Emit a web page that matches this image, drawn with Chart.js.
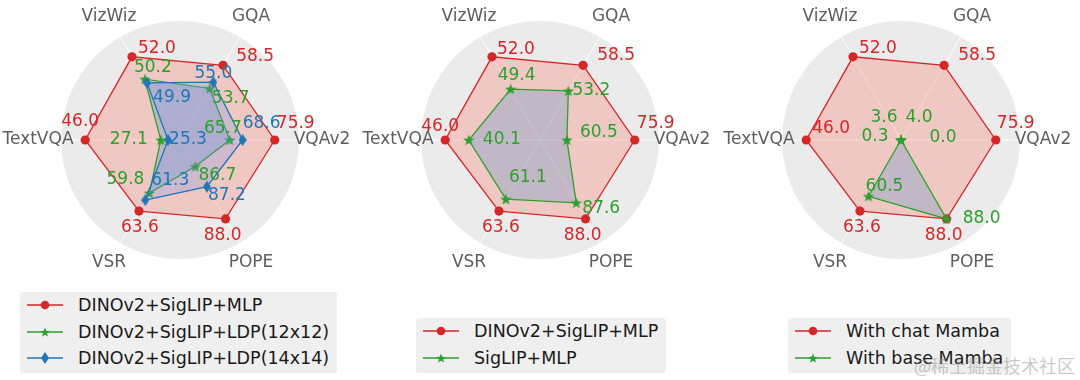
<!DOCTYPE html>
<html lang="en">
<head>
  <meta charset="UTF-8">
  <title>Radar comparison of projector / LLM variants</title>
  <script src="https://cdn.jsdelivr.net/npm/chart.js"></script>
  <style>
    body {
      margin: 0;
      width: 1080px;
      height: 380px;
      position: relative;
      overflow: hidden;
      background: #ffffff;
      font-family: "DejaVu Sans", sans-serif;
    }
    canvas.radar {
      position: absolute;
      top: 0;
    }
    .legend {
      position: absolute;
      background: #efefef;
      border-radius: 3px;
      padding: 0 8px 0 7px;
    }
    .legend .row {
      height: 26.5px;
      display: flex;
      align-items: center;
      font-size: 17.5px;
      color: #1a1a1a;
      white-space: nowrap;
    }
    .legend svg {
      flex: none;
      margin-right: 15px;
    }
    .watermark {
      position: absolute;
      right: 5px;
      bottom: 2px;
      font-family: "Noto Sans CJK SC", sans-serif;
      font-size: 18px;
      color: rgba(150, 150, 150, 0.5);
    }
  </style>
</head>
<body>
  <canvas class="radar" id="radar1" width="360" height="280" style="left:0px"></canvas>
  <canvas class="radar" id="radar2" width="360" height="280" style="left:360px"></canvas>
  <canvas class="radar" id="radar3" width="360" height="280" style="left:721px"></canvas>

  <div class="legend" id="legend1" style="left:20px; top:292px; height:81px;"></div>
  <div class="legend" id="legend2" style="left:416px; top:318px; height:55px;"></div>
  <div class="legend" id="legend3" style="left:788px; top:318px; height:55px;"></div>

  <div class="watermark">@稀土掘金技术社区</div>

  <script>
    // axes in the order Chart.js walks them (clockwise, starting on the right)
    var categories = ['VQAv2', 'POPE', 'VSR', 'TextVQA', 'VizWiz', 'GQA'];

    // each benchmark has its own range, mapped onto the shared radius
    var axisMin = [54.4, 86.04, 48.7, 22.3, 45.3, 43.0];
    var axisMax = [81.4, 88.6, 70.3, 52.05, 53.6, 64.4];

    // panel 1
    var dinoSiglipMlp = [75.9, 88.0, 63.6, 46.0, 52.0, 58.5];
    var dinoSiglipLdp12 = [65.7, 86.7, 59.8, 27.1, 50.2, 53.7];
    var dinoSiglipLdp14 = [68.6, 87.2, 61.3, 25.3, 49.9, 55.0];
    // panel 2
    var siglipMlp = [60.5, 87.6, 61.1, 40.1, 49.4, 53.2];
    // panel 3
    var chatMamba = [75.9, 88.0, 63.6, 46.0, 52.0, 58.5];
    var baseMamba = [0.0, 88.0, 60.5, 0.3, 3.6, 4.0];

    var RED = '#d62728';
    var GREEN = '#2ca02c';
    var BLUE = '#1f77b4';

    function norm(values) {
      return values.map(function (v, i) {
        var t = (v - axisMin[i]) / (axisMax[i] - axisMin[i]);
        return Math.max(0, Math.min(1, t));
      });
    }

    // marker images (matplotlib-like '*' and 'd')
    function starImage(color, size) {
      var c = document.createElement('canvas');
      c.width = size; c.height = size;
      var g = c.getContext('2d');
      var R = size / 2, r = R * 0.42;
      g.beginPath();
      for (var k = 0; k < 10; k++) {
        var a = -Math.PI / 2 + k * Math.PI / 5;
        var rr = (k % 2) ? r : R;
        g.lineTo(R + rr * Math.cos(a), R + 0.5 + rr * Math.sin(a));
      }
      g.closePath();
      g.fillStyle = color;
      g.fill();
      return c;
    }

    function diamondImage(color, w, h) {
      var c = document.createElement('canvas');
      c.width = w; c.height = h;
      var g = c.getContext('2d');
      g.beginPath();
      g.moveTo(w / 2, 0);
      g.lineTo(w, h / 2);
      g.lineTo(w / 2, h);
      g.lineTo(0, h / 2);
      g.closePath();
      g.fillStyle = color;
      g.fill();
      return c;
    }

    var starMark = starImage(GREEN, 12);
    var diamondMark = diamondImage(BLUE, 8, 12);

    function series(label, values, color, fill, marker, order) {
      return {
        label: label,
        data: norm(values),
        rawValues: values,
        borderColor: color,
        backgroundColor: fill,
        borderWidth: 1.3,
        fill: true,
        pointStyle: marker,
        pointRadius: 4.6,
        pointBackgroundColor: color,
        pointBorderColor: color,
        pointBorderWidth: 0,
        order: order
      };
    }

    // light grey disc behind the radar
    var discPlugin = {
      id: 'disc',
      beforeDraw: function (chart) {
        var s = chart.scales.r;
        var ctx = chart.ctx;
        ctx.save();
        ctx.beginPath();
        ctx.arc(s.xCenter, s.yCenter, s.drawingArea, 0, Math.PI * 2);
        ctx.fillStyle = '#ebebeb';
        ctx.fill();
        ctx.restore();
      }
    };

    // benchmark names, centred on a circle outside the disc
    var axisNamesPlugin = {
      id: 'axisNames',
      beforeDatasetsDraw: function (chart) {
        var s = chart.scales.r;
        var ctx = chart.ctx;
        ctx.save();
        ctx.font = '17px "DejaVu Sans"';
        ctx.fillStyle = '#5e5e5e';
        ctx.textAlign = 'center';
        ctx.textBaseline = 'middle';
        categories.forEach(function (name, i) {
          var p = s.getPointPosition(i, 142);
          ctx.fillText(name, p.x, p.y);
        });
        ctx.restore();
      }
    };

    // numeric annotation next to every point
    var valueLabelsPlugin = {
      id: 'valueLabels',
      afterDatasetsDraw: function (chart, args, opts) {
        var ctx = chart.ctx;
        ctx.save();
        ctx.font = '17px "DejaVu Sans"';
        ctx.textAlign = 'center';
        ctx.textBaseline = 'middle';
        chart.data.datasets.forEach(function (ds, d) {
          var meta = chart.getDatasetMeta(d);
          meta.data.forEach(function (pt, i) {
            var off = opts.offsets[d][i];
            ctx.fillStyle = ds.borderColor;
            ctx.fillText(ds.rawValues[i].toFixed(1), pt.x + off[0], pt.y + off[1]);
          });
        });
        ctx.restore();
      }
    };

    function makeRadar(id, datasets, offsets) {
      var ctx = document.getElementById(id).getContext('2d');
      return new Chart(ctx, {
        type: 'radar',
        data: { labels: categories, datasets: datasets },
        options: {
          responsive: false,
          animation: false,
          devicePixelRatio: 1,
          layout: { padding: { left: 61, right: 61, top: 21, bottom: 21 } },
          elements: { line: { tension: 0 } },
          scales: {
            r: {
              min: 0,
              max: 1,
              startAngle: 90,
              ticks: { display: false },
              grid: { display: false },
              angleLines: { display: true, color: '#ffffff', lineWidth: 1 },
              pointLabels: { display: false }
            }
          },
          plugins: {
            legend: { display: false },
            tooltip: { enabled: false },
            valueLabels: { offsets: offsets }
          }
        },
        plugins: [discPlugin, axisNamesPlugin, valueLabelsPlugin]
      });
    }

    var redFill = 'rgba(250, 128, 114, 0.32)';
    var greenFill = 'rgba(90, 150, 200, 0.30)';
    var blueFill = 'rgba(110, 140, 240, 0.25)';

    makeRadar('radar1', [
      series('DINOv2+SigLIP+MLP', dinoSiglipMlp, RED, redFill, 'circle', 3),
      series('DINOv2+SigLIP+LDP(12x12)', dinoSiglipLdp12, GREEN, greenFill, starMark, 2),
      series('DINOv2+SigLIP+LDP(14x14)', dinoSiglipLdp14, BLUE, blueFill, diamondMark, 1)
    ], [
      [[21, -16], [-3, 17], [1, 16], [-5, -18], [25, -8], [32, -9]],
      [[-7, -11], [22, 9], [-24, -13], [-32, 0], [8, -12], [21, 10]],
      [[19, -16], [20, 9], [25, -20], [20, 0], [25, 15], [0, -9]]
    ]);

    makeRadar('radar2', [
      series('DINOv2+SigLIP+MLP', dinoSiglipMlp, RED, redFill, 'circle', 2),
      series('SigLIP+MLP', siglipMlp, GREEN, greenFill, starMark, 1)
    ], [
      [[21, -16], [-3, 17], [2, 16], [-5, -13], [24, -7], [33, -10]],
      [[32, -7], [25, 6], [22, -22], [33, 0], [6, -14], [23, 0]]
    ]);

    makeRadar('radar3', [
      series('With chat Mamba', chatMamba, RED, redFill, 'circle', 2),
      series('With base Mamba', baseMamba, GREEN, greenFill, starMark, 1)
    ], [
      [[20, -16], [-3, 17], [2, 16], [25, -11], [25, -8], [33, -10]],
      [[42, -2], [35, 0], [16, -10], [-26, -3], [-17, -22], [18, -22]]
    ]);

    // legends
    var markerSvg = {
      circle: function (c) { return '<circle cx="18" cy="7" r="4.3" fill="' + c + '"/>'; },
      star: function (c) {
        var pts = [];
        for (var k = 0; k < 10; k++) {
          var a = -Math.PI / 2 + k * Math.PI / 5;
          var rr = (k % 2) ? 2.2 : 5;
          pts.push((18 + rr * Math.cos(a)).toFixed(2) + ',' + (7.5 + rr * Math.sin(a)).toFixed(2));
        }
        return '<polygon points="' + pts.join(' ') + '" fill="' + c + '"/>';
      },
      diamond: function (c) { return '<polygon points="18,1 22,7 18,13 14,7" fill="' + c + '"/>'; }
    };

    function buildLegend(id, entries) {
      var html = '';
      entries.forEach(function (e) {
        html += '<div class="row"><svg width="36" height="14" viewBox="0 0 36 14">' +
          '<line x1="0" y1="7" x2="36" y2="7" stroke="' + e[1] + '" stroke-width="1.3"/>' +
          markerSvg[e[2]](e[1]) + '</svg><span>' + e[0] + '</span></div>';
      });
      document.getElementById(id).innerHTML = html;
    }

    buildLegend('legend1', [
      ['DINOv2+SigLIP+MLP', RED, 'circle'],
      ['DINOv2+SigLIP+LDP(12x12)', GREEN, 'star'],
      ['DINOv2+SigLIP+LDP(14x14)', BLUE, 'diamond']
    ]);
    buildLegend('legend2', [
      ['DINOv2+SigLIP+MLP', RED, 'circle'],
      ['SigLIP+MLP', GREEN, 'star']
    ]);
    buildLegend('legend3', [
      ['With chat Mamba', RED, 'circle'],
      ['With base Mamba', GREEN, 'star']
    ]);
  </script>
</body>
</html>
